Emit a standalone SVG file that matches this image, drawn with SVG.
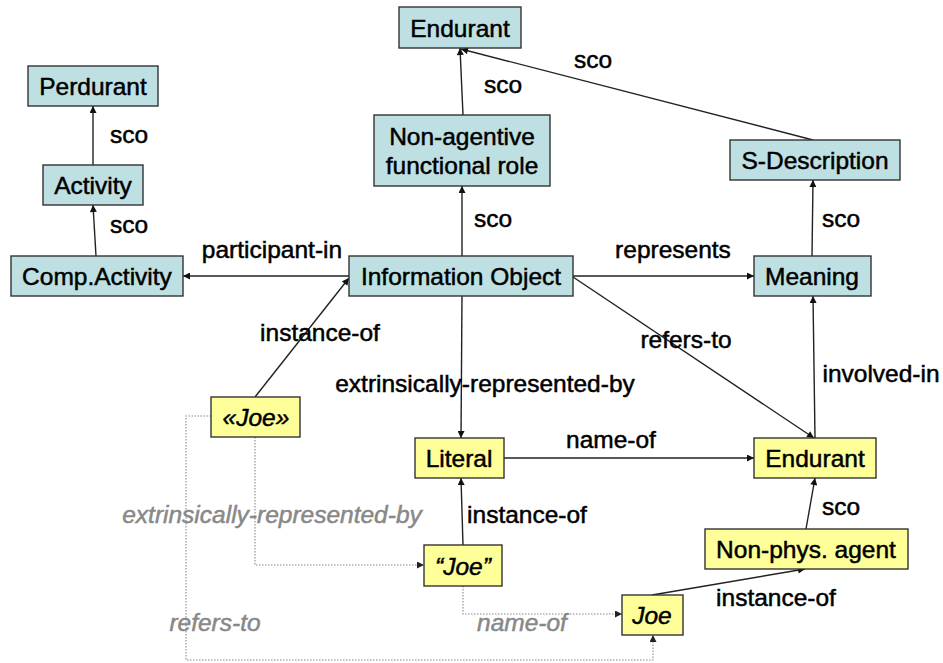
<svg xmlns="http://www.w3.org/2000/svg" width="943" height="663" viewBox="0 0 943 663">
  <defs>
    <marker id="arr" viewBox="0 0 10 10" refX="10" refY="5" markerWidth="8" markerHeight="7" markerUnits="userSpaceOnUse" orient="auto">
      <path d="M0,0 L10,5 L0,10 z" fill="#111"/>
    </marker>
    <marker id="arrd" viewBox="0 0 10 10" refX="10" refY="5" markerWidth="8" markerHeight="7" markerUnits="userSpaceOnUse" orient="auto">
      <path d="M0,0 L10,5 L0,10 z" fill="#222"/>
    </marker>
  </defs>
  <style>
    text { font-family: "Liberation Sans", Arial, sans-serif; font-size: 24.5px; fill: #000; stroke: #000; stroke-width: 0.5; }
    .node text { text-anchor: middle; }
    .cls rect { fill: #bfe0e3; stroke: #333; stroke-width: 1.4; }
    .ind rect { fill: #ffff99; stroke: #333; stroke-width: 1.4; }
    .it { font-style: italic; }
    .edge { fill: none; stroke: #222; stroke-width: 1.4; marker-end: url(#arr); }
    .dot { fill: none; stroke: #888; stroke-width: 1.1; stroke-dasharray: 1.5 1.5; marker-end: url(#arrd); }
    .lbl { text-anchor: middle; }
    .glbl { text-anchor: middle; font-style: italic; fill: #888; stroke: #888; }
  </style>
  <rect width="943" height="663" fill="#fff"/>

  <!-- connectors -->
  <g id="connectors">
    <line class="edge" x1="93" y1="165" x2="93" y2="106"/>
    <line class="edge" x1="96" y1="256" x2="93" y2="205"/>
    <line class="edge" x1="349" y1="276" x2="183" y2="276"/>
    <line class="edge" x1="463" y1="115" x2="460" y2="48"/>
    <line class="edge" x1="813" y1="140" x2="461" y2="49"/>
    <line class="edge" x1="462" y1="256" x2="462" y2="186"/>
    <line class="edge" x1="573" y1="276" x2="754" y2="276"/>
    <line class="edge" x1="812" y1="256" x2="813" y2="180"/>
    <line class="edge" x1="573" y1="277" x2="814" y2="438"/>
    <line class="edge" x1="815" y1="438" x2="813" y2="296"/>
    <line class="edge" x1="462" y1="296" x2="461" y2="438"/>
    <line class="edge" x1="255" y1="397" x2="349" y2="278"/>
    <line class="edge" x1="504" y1="458" x2="754" y2="458"/>
    <line class="edge" x1="463" y1="545" x2="461" y2="478"/>
    <line class="edge" x1="806" y1="529" x2="815" y2="478"/>
    <line class="edge" x1="652" y1="595" x2="805" y2="569"/>
    <polyline class="dot" points="255,437 255,565 424,565"/>
    <polyline class="dot" points="211,416 186,416 186,660 653,660 653,635"/>
    <polyline class="dot" points="463,586 463,614 622,614"/>
  </g>

  <!-- connector labels -->
  <g id="labels">
    <text class="lbl" x="129" y="143">sco</text>
    <text class="lbl" x="129" y="233">sco</text>
    <text class="lbl" x="272" y="258">participant-in</text>
    <text class="lbl" x="503" y="93">sco</text>
    <text class="lbl" x="593" y="68">sco</text>
    <text class="lbl" x="493" y="227">sco</text>
    <text class="lbl" x="841" y="227">sco</text>
    <text class="lbl" x="673" y="258">represents</text>
    <text class="lbl" x="320" y="341">instance-of</text>
    <text class="lbl" x="686" y="348">refers-to</text>
    <text class="lbl" x="485" y="392">extrinsically-represented-by</text>
    <text class="lbl" x="881" y="382">involved-in</text>
    <text class="lbl" x="611" y="448">name-of</text>
    <text class="lbl" x="527" y="523">instance-of</text>
    <text class="lbl" x="841" y="515">sco</text>
    <text class="lbl" x="776" y="606">instance-of</text>
    <text class="glbl" x="272" y="523">extrinsically-represented-by</text>
    <text class="glbl" x="215" y="631">refers-to</text>
    <text class="glbl" x="522" y="631">name-of</text>
  </g>

  <!-- class nodes -->
  <g id="perdurant" class="node cls"><rect x="28" y="66" width="130" height="40"/><text x="93" y="95">Perdurant</text></g>
  <g id="activity" class="node cls"><rect x="43" y="165" width="100" height="40"/><text x="93" y="194">Activity</text></g>
  <g id="comp-activity" class="node cls"><rect x="11" y="256" width="172" height="40"/><text x="97" y="285">Comp.Activity</text></g>
  <g id="endurant-top" class="node cls"><rect x="399" y="7" width="122" height="41"/><text x="460" y="37">Endurant</text></g>
  <g id="non-agentive" class="node cls"><rect x="374" y="115" width="176" height="71"/><text x="462" y="145">Non-agentive</text><text x="462" y="174">functional role</text></g>
  <g id="information-object" class="node cls"><rect x="349" y="256" width="224" height="40"/><text x="461" y="285">Information Object</text></g>
  <g id="s-description" class="node cls"><rect x="730" y="140" width="170" height="40"/><text x="815" y="169">S-Description</text></g>
  <g id="meaning" class="node cls"><rect x="754" y="256" width="117" height="40"/><text x="812" y="285">Meaning</text></g>

  <!-- individual nodes -->
  <g id="joe-concept" class="node ind"><rect x="211" y="397" width="89" height="40"/><text class="it" x="256" y="426">«Joe»</text></g>
  <g id="literal" class="node ind"><rect x="415" y="438" width="89" height="40"/><text x="459" y="467">Literal</text></g>
  <g id="endurant-low" class="node ind"><rect x="754" y="438" width="122" height="40"/><text x="815" y="467">Endurant</text></g>
  <g id="joe-literal" class="node ind"><rect x="424" y="545" width="78" height="41"/><text class="it" x="463" y="575">“Joe”</text></g>
  <g id="non-phys-agent" class="node ind"><rect x="705" y="529" width="203" height="40"/><text x="806" y="558">Non-phys. agent</text></g>
  <g id="joe" class="node ind"><rect x="622" y="595" width="61" height="40"/><text class="it" x="652" y="624">Joe</text></g>
</svg>
